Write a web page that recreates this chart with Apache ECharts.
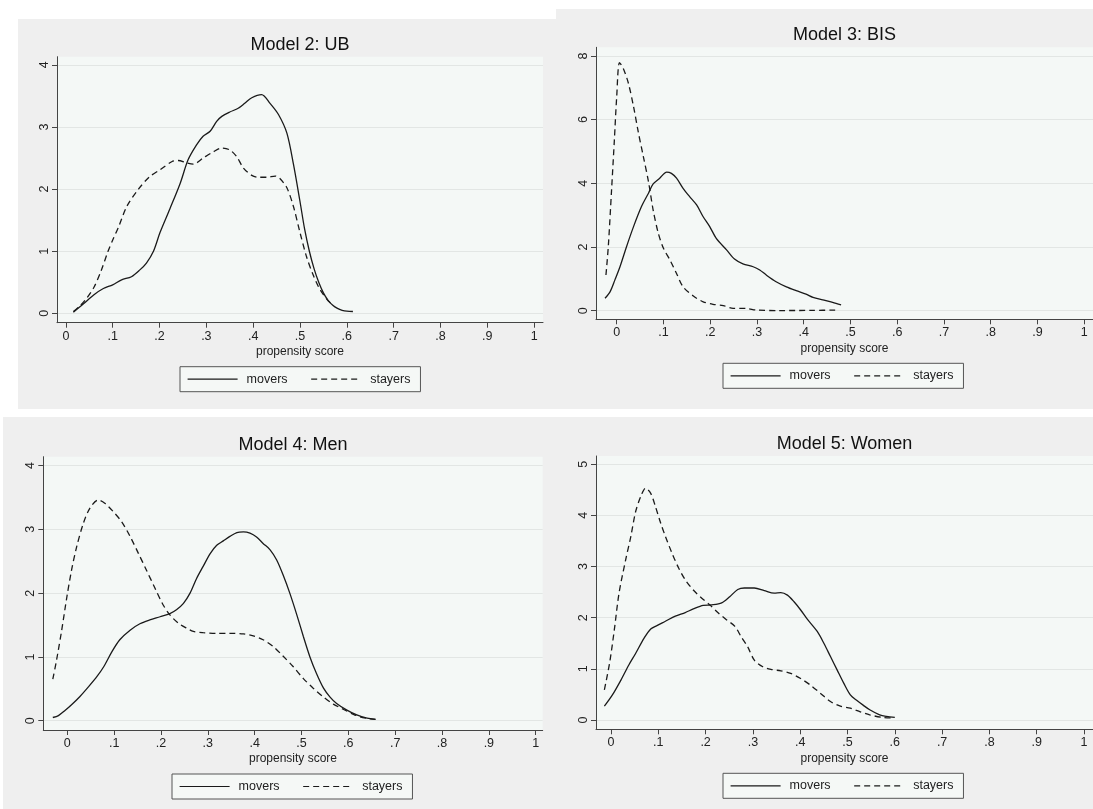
<!DOCTYPE html>
<html>
<head>
<meta charset="utf-8">
<title>Propensity score densities</title>
<script src="https://cdn.jsdelivr.net/npm/echarts@6/dist/echarts.min.js"></script>
<style>
  html, body { margin: 0; padding: 0; background: #ffffff; }
  #chart { width: 1093px; height: 809px; }
</style>
</head>
<body>
<div id="chart"></div>
<script>
// --- data ---
const panelTitles = ['Model 2: UB', 'Model 3: BIS', 'Model 4: Men', 'Model 5: Women'];
const seriesNames = ['movers', 'stayers'];
const xTickValues = [0, 0.1, 0.2, 0.3, 0.4, 0.5, 0.6, 0.7, 0.8, 0.9, 1];
const xTickLabels = ['0', '.1', '.2', '.3', '.4', '.5', '.6', '.7', '.8', '.9', '1'];
const yTicksUB = [0, 1, 2, 3, 4];
const yTicksBIS = [0, 2, 4, 6, 8];
const yTicksMen = [0, 1, 2, 3, 4];
const yTicksWomen = [0, 1, 2, 3, 4, 5];

const ubMovers = [[0.016,0.02],[0.037,0.15],[0.06,0.3],[0.08,0.40],[0.10,0.46],[0.119,0.54],[0.14,0.59],[0.158,0.70],[0.172,0.81],[0.187,1.0],[0.201,1.3],[0.222,1.68],[0.244,2.09],[0.261,2.47],[0.279,2.71],[0.293,2.85],[0.308,2.93],[0.322,3.09],[0.333,3.17],[0.35,3.24],[0.368,3.30],[0.382,3.38],[0.397,3.47],[0.418,3.52],[0.436,3.38],[0.454,3.2],[0.472,2.9],[0.486,2.4],[0.5,1.8],[0.51,1.35],[0.52,1.0],[0.53,0.72],[0.54,0.5],[0.55,0.33],[0.56,0.21],[0.57,0.13],[0.58,0.08],[0.59,0.05],[0.6,0.035],[0.613,0.03]];
const ubStayers = [[0.016,0.03],[0.03,0.12],[0.045,0.25],[0.06,0.42],[0.075,0.68],[0.09,1.0],[0.1,1.18],[0.113,1.4],[0.13,1.72],[0.155,2.0],[0.179,2.2],[0.201,2.31],[0.226,2.44],[0.24,2.46],[0.258,2.42],[0.272,2.40],[0.293,2.5],[0.315,2.6],[0.333,2.66],[0.35,2.63],[0.365,2.52],[0.379,2.34],[0.397,2.22],[0.411,2.19],[0.429,2.19],[0.447,2.21],[0.457,2.17],[0.472,2.02],[0.486,1.72],[0.5,1.3],[0.514,0.91],[0.528,0.62],[0.54,0.42],[0.55,0.3],[0.56,0.2],[0.565,0.17]];

const bisMovers = [[-0.025,0.39],[-0.014,0.6],[-0.004,0.96],[0.007,1.38],[0.021,2.01],[0.036,2.64],[0.053,3.27],[0.068,3.69],[0.078,3.98],[0.092,4.16],[0.107,4.35],[0.117,4.31],[0.128,4.16],[0.142,3.84],[0.156,3.58],[0.171,3.32],[0.185,2.95],[0.199,2.64],[0.213,2.27],[0.235,1.91],[0.252,1.62],[0.27,1.47],[0.292,1.38],[0.306,1.28],[0.32,1.12],[0.341,0.91],[0.363,0.75],[0.384,0.63],[0.405,0.52],[0.42,0.42],[0.441,0.34],[0.462,0.26],[0.48,0.18]];
const bisStayers = [[-0.023,1.12],[-0.018,2.01],[-0.011,3.79],[-0.005,5.36],[0,6.72],[0.006,7.79],[0.014,7.61],[0.025,7.14],[0.036,6.41],[0.046,5.62],[0.057,4.84],[0.068,4.05],[0.078,3.16],[0.089,2.43],[0.1,1.96],[0.114,1.59],[0.128,1.17],[0.142,0.75],[0.164,0.46],[0.185,0.28],[0.206,0.2],[0.228,0.16],[0.249,0.07],[0.277,0.07],[0.299,0.02],[0.349,0.005],[0.42,0.01],[0.469,0.02]];

const menMovers = [[-0.031,0.05],[-0.019,0.08],[-0.005,0.16],[0.009,0.25],[0.027,0.38],[0.045,0.53],[0.063,0.69],[0.078,0.85],[0.095,1.08],[0.112,1.27],[0.134,1.42],[0.155,1.52],[0.176,1.58],[0.198,1.63],[0.219,1.68],[0.233,1.74],[0.248,1.84],[0.262,2.0],[0.276,2.23],[0.29,2.42],[0.305,2.62],[0.319,2.75],[0.333,2.82],[0.347,2.89],[0.362,2.95],[0.376,2.96],[0.39,2.94],[0.404,2.88],[0.418,2.78],[0.433,2.68],[0.447,2.52],[0.461,2.28],[0.475,2.0],[0.49,1.66],[0.504,1.32],[0.518,1.0],[0.532,0.74],[0.547,0.51],[0.561,0.37],[0.575,0.27],[0.596,0.17],[0.618,0.09],[0.64,0.04],[0.658,0.02]];
const menStayers = [[-0.031,0.65],[-0.023,0.95],[-0.012,1.42],[-0.001,1.94],[0.009,2.36],[0.02,2.73],[0.034,3.09],[0.048,3.33],[0.066,3.46],[0.08,3.41],[0.098,3.28],[0.116,3.12],[0.134,2.89],[0.152,2.62],[0.169,2.36],[0.187,2.08],[0.205,1.81],[0.219,1.66],[0.237,1.53],[0.255,1.45],[0.269,1.4],[0.29,1.38],[0.319,1.37],[0.347,1.37],[0.376,1.36],[0.397,1.33],[0.418,1.27],[0.44,1.16],[0.461,1.01],[0.482,0.85],[0.504,0.66],[0.525,0.51],[0.547,0.37],[0.568,0.26],[0.589,0.18],[0.611,0.1],[0.625,0.06],[0.645,0.03],[0.658,0.02]];

const womenMovers = [[-0.014,0.27],[0.003,0.49],[0.021,0.78],[0.038,1.08],[0.052,1.3],[0.07,1.6],[0.084,1.78],[0.098,1.85],[0.115,1.93],[0.136,2.03],[0.157,2.1],[0.174,2.17],[0.195,2.24],[0.213,2.25],[0.234,2.29],[0.251,2.41],[0.268,2.55],[0.282,2.58],[0.303,2.58],[0.324,2.53],[0.345,2.48],[0.359,2.49],[0.373,2.44],[0.387,2.31],[0.401,2.15],[0.415,1.97],[0.436,1.73],[0.45,1.5],[0.464,1.24],[0.478,0.98],[0.492,0.72],[0.506,0.49],[0.52,0.38],[0.533,0.29],[0.547,0.2],[0.568,0.1],[0.582,0.07],[0.6,0.05]];
const womenStayers = [[-0.014,0.59],[-0.003,1.11],[0.007,1.76],[0.017,2.48],[0.031,3.13],[0.042,3.59],[0.052,4.07],[0.063,4.37],[0.073,4.53],[0.084,4.43],[0.094,4.17],[0.105,3.85],[0.115,3.59],[0.129,3.26],[0.143,2.97],[0.157,2.74],[0.174,2.54],[0.192,2.38],[0.209,2.25],[0.227,2.09],[0.244,1.96],[0.262,1.83],[0.275,1.63],[0.289,1.43],[0.303,1.17],[0.321,1.04],[0.338,0.99],[0.359,0.96],[0.38,0.91],[0.401,0.81],[0.422,0.68],[0.443,0.52],[0.464,0.36],[0.485,0.27],[0.506,0.23],[0.527,0.16],[0.547,0.1],[0.575,0.05],[0.6,0.04]];

// --- layout of the four Stata panels (pixels) ---
const FONT = '"Liberation Sans", Arial, Helvetica, sans-serif';
const INK = '#1a1a1a';
const panels = [
  { movers: ubMovers, stayers: ubStayers, yTicks: yTicksUB,
    bg: [18, 19, 538, 390], grid: [57, 56.7, 486, 266],
    x: [-0.019, 1.019], y: [-0.15, 4.13], legendLeft: 180 },
  { movers: bisMovers, stayers: bisStayers, yTicks: yTicksBIS,
    bg: [556, 9, 537, 400], grid: [596, 47.3, 497, 272],
    x: [-0.0443, 1.019], y: [-0.27, 8.27], legendLeft: 723 },
  { movers: menMovers, stayers: menStayers, yTicks: yTicksMen,
    bg: [3, 417, 553, 392], grid: [43.3, 456.7, 499.4, 273.3],
    x: [-0.0513, 1.015], y: [-0.146, 4.14], legendLeft: 172 },
  { movers: womenMovers, stayers: womenStayers, yTicks: yTicksWomen,
    bg: [556, 417, 537, 392], grid: [596, 456, 497, 273.3],
    x: [-0.0317, 1.019], y: [-0.182, 5.16], legendLeft: 723 }
];

function xLabel(v) {
  const i = xTickValues.findIndex(t => Math.abs(t - v) < 1e-9);
  return i >= 0 ? xTickLabels[i] : '';
}

const chart = echarts.init(document.getElementById('chart'), null, { renderer: 'canvas' });

const option = {
  animation: false,
  backgroundColor: '#ffffff',
  textStyle: { fontFamily: FONT },
  graphic: panels.map(p => ({
    type: 'rect', z: -10, silent: true,
    shape: { x: p.bg[0], y: p.bg[1], width: p.bg[2], height: p.bg[3] },
    style: { fill: '#efefef' }
  })),
  title: panels.map((p, i) => ({
    text: panelTitles[i],
    left: p.grid[0] + p.grid[2] / 2,
    top: p.grid[1] - 21,
    textAlign: 'center',
    padding: 0,
    textStyle: { fontFamily: FONT, fontSize: 18, fontWeight: 'normal', color: '#111' }
  })),
  legend: panels.map(p => ({
    data: seriesNames,
    left: p.legendLeft,
    top: p.grid[1] + p.grid[3] + 44,
    orient: 'horizontal',
    itemWidth: 50,
    itemHeight: 12,
    itemGap: 23,
    padding: [6, 10, 6, 7],
    backgroundColor: '#f5f8f6',
    borderColor: '#555555',
    borderWidth: 1,
    borderRadius: 0,
    selectedMode: false,
    itemStyle: { opacity: 0 },
    lineStyle: { width: 1.2 },
    textStyle: { fontFamily: FONT, fontSize: 12.5, color: '#222', padding: [0, 0, 0, 4] }
  })),
  grid: panels.map(p => ({
    left: p.grid[0], top: p.grid[1], width: p.grid[2], height: p.grid[3],
    show: true, backgroundColor: '#f4f8f6', borderWidth: 0
  })),
  xAxis: panels.map((p, i) => ({
    type: 'value', gridIndex: i, min: p.x[0], max: p.x[1],
    name: 'propensity score', nameLocation: 'middle', nameGap: 23,
    nameTextStyle: { fontFamily: FONT, fontSize: 12, color: '#222' },
    axisLine: { onZero: false, lineStyle: { color: '#444', width: 1 } },
    axisTick: { customValues: xTickValues, length: 5, lineStyle: { color: '#444' } },
    axisLabel: { customValues: xTickValues, formatter: xLabel, margin: 7,
                 fontFamily: FONT, fontSize: 12.5, color: '#222' },
    splitLine: { show: false }
  })),
  yAxis: panels.map((p, i) => ({
    type: 'value', gridIndex: i, min: p.y[0], max: p.y[1],
    axisLine: { onZero: false, lineStyle: { color: '#444', width: 1 } },
    axisTick: { customValues: p.yTicks, length: 5, lineStyle: { color: '#444' } },
    axisLabel: { customValues: p.yTicks, rotate: 90, margin: 6,
                 fontFamily: FONT, fontSize: 12.5, color: '#222' },
    splitLine: { show: true, lineStyle: { color: '#e2e6e4', width: 1 } }
  })),
  series: []
};

panels.forEach((p, i) => {
  option.series.push({
    name: 'movers', type: 'line', xAxisIndex: i, yAxisIndex: i,
    data: p.movers, showSymbol: false, symbol: 'none', smooth: 0.3,
    lineStyle: { color: INK, width: 1.3, type: 'solid' },
    itemStyle: { color: INK }
  });
  option.series.push({
    name: 'stayers', type: 'line', xAxisIndex: i, yAxisIndex: i,
    data: p.stayers, showSymbol: false, symbol: 'none', smooth: 0.3,
    lineStyle: { color: INK, width: 1.3, type: [6, 4] },
    itemStyle: { color: INK }
  });
});

chart.setOption(option);
</script>
</body>
</html>
